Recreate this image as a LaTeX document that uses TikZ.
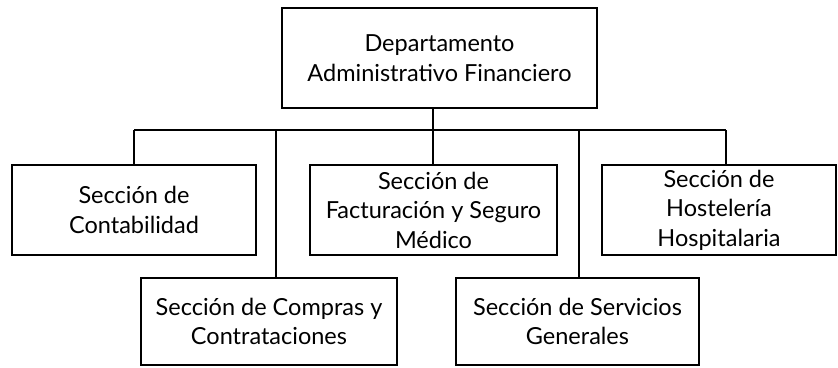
\documentclass[tikz,border=0pt]{standalone}
\usepackage{fontspec}
\setmainfont{Lato}
\begin{document}
\begin{tikzpicture}[x=1pt,y=-1pt,
  box/.style={draw, line width=1.8pt, align=center, inner sep=0pt,
    font=\fontsize{23.5}{29.5}\selectfont},
  conn/.style={line width=1.6pt}]
\useasboundingbox (0,0) rectangle (838,367);
\node[box, minimum width=315pt, minimum height=100pt] (dep) at (439.5,58) {Departamento\\Administrativo Financiero};
\node[box, minimum width=244pt, minimum height=90pt] (con) at (134,210) {Sección de\\Contabilidad};
\node[box, minimum width=247pt, minimum height=90pt] (fac) at (433.5,210) {Sección de\\Facturación y Seguro\\Médico};
\node[box, minimum width=234pt, minimum height=90pt] (hos) at (719,210) {Sección de\\Hostelería\\Hospitalaria};
\node[box, minimum width=256pt, minimum height=87pt] (com) at (269,321.5) {Sección de Compras y\\Contrataciones};
\node[box, minimum width=243pt, minimum height=87pt] (ser) at (577.5,321.5) {Sección de Servicios\\Generales};
\coordinate (bus) at (433,130);
\coordinate (busL) at (134,130);
\coordinate (busR) at (726,130);
\draw[conn] (dep.south -| bus) -- (fac.north -| bus);
\draw[conn] (busL) -- (busR);
\draw[conn] (busL) -- (con.north -| busL);
\draw[conn] (busR) -- (hos.north -| busR);
\draw[conn] (276,130) coordinate (c1) -- (com.north -| c1);
\draw[conn] (579,130) coordinate (c2) -- (ser.north -| c2);
\end{tikzpicture}
\end{document}
